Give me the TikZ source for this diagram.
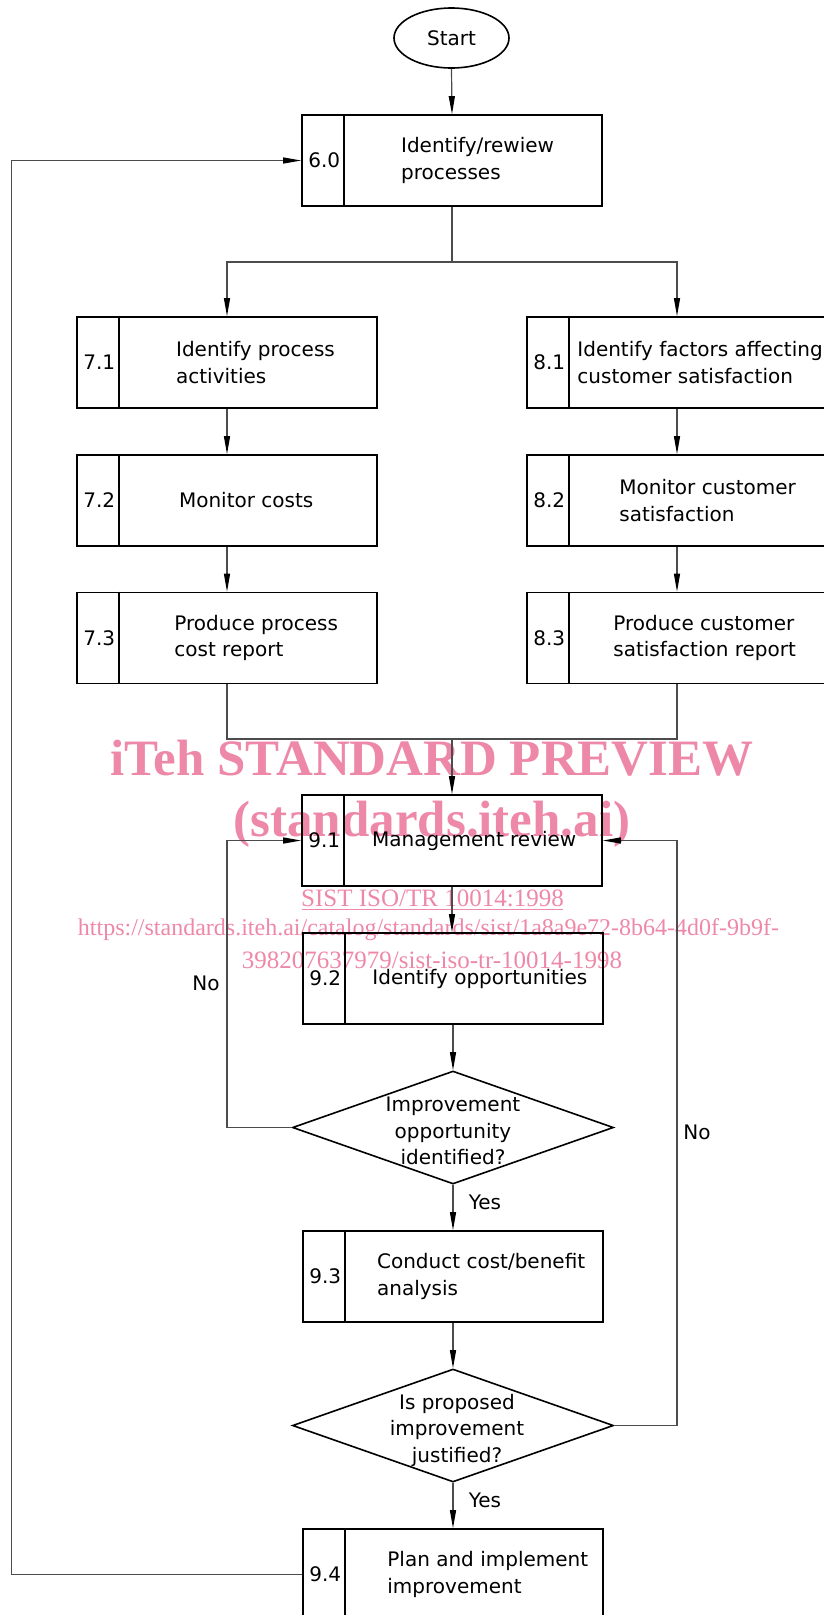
\documentclass[tikz,border=0pt]{standalone}
\usepackage{fontspec}
\setmainfont{DejaVu Sans}
\newfontfamily\wmfont{Liberation Serif}
\usetikzlibrary{shapes.geometric,arrows.meta,calc}
\definecolor{wm}{RGB}{238,136,168}
\newcommand\procbox[6]{% name, center, number, text style, text offset, text
  \node[box] (#1) at (#2) {};
  \draw[line width=1.6pt] ([xshift=43pt]#1.north west) -- ([xshift=43pt]#1.south west);
  \node[num] (#1n) at ([xshift=23pt]#1.west) {#3};
  \node[#4] (#1t) at ([xshift=#5pt]#1.west) {#6};
}
\begin{document}
\begin{tikzpicture}[x=1pt,y=-1pt,
  box/.style={draw=black,line width=1.6pt,rectangle,minimum width=300pt,minimum height=91pt,inner sep=0pt},
  dia/.style={draw=black,line width=1.6pt,diamond,minimum width=321pt,minimum height=113pt,inner sep=0pt},
  num/.style={font=\fontsize{20}{26.5}\selectfont,inner sep=0pt},
  txt/.style={font=\fontsize{20}{26.5}\selectfont,align=left,anchor=west,inner sep=0pt},
  ctxt/.style={font=\fontsize{20}{26.5}\selectfont,align=center,inner sep=0pt},
  conn/.style={line width=1.2pt,draw=black!70},
  arr/.style={conn,-{Triangle[length=18pt,width=6pt,color=black]}},
  wmt/.style={text=wm,inner sep=0pt,anchor=base}
]
\useasboundingbox (0,0) rectangle (824,1615);
\clip (0,0) rectangle (824,1615);

% watermark (beneath the diagram)
\node[wmt,font=\wmfont\bfseries\fontsize{51}{50}\selectfont] (wm1) at (432,775) {iTeh STANDARD PREVIEW};
\node[wmt,font=\wmfont\bfseries\fontsize{51}{50}\selectfont] (wm2) at (432,836) {(standards.iteh.ai)};
\node[wmt,font=\wmfont\fontsize{25}{25}\selectfont] (wm3) at (432.5,906) {SIST ISO/TR 10014:1998};
\draw[wm,line width=1.3pt] (302,909.5) -- (563,909.5);
\node[wmt,font=\wmfont\fontsize{24}{24}\selectfont] (wm4) at (428.5,935) {https://standards.iteh.ai/catalog/standards/sist/1a8a9e72-8b64-4d0f-9b9f-};
\node[wmt,font=\wmfont\fontsize{25}{25}\selectfont] (wm5) at (432,968) {398207637979/sist-iso-tr-10014-1998};

% start
\node[draw=black,ellipse,line width=1.6pt,minimum width=115pt,minimum height=60pt,inner sep=0pt,font=\fontsize{20}{26.5}\selectfont] (start) at (451.5,38) {Start};

% process boxes
\procbox{b60}{452,160.5}{6.0}{txt}{99.7}{Identify/rewiew\\processes}
\procbox{b71}{227,362.5}{7.1}{txt}{99.7}{Identify process\\activities}
\procbox{b72}{227,500.5}{7.2}{ctxt}{170}{Monitor costs}
\procbox{b73}{227,638}{7.3}{txt}{98}{Produce process\\cost report}
\procbox{b81}{677,362.5}{8.1}{txt}{51}{Identify factors affecting\\customer satisfaction}
\procbox{b82}{677,500.5}{8.2}{txt}{93}{Monitor customer\\satisfaction}
\procbox{b83}{677,638}{8.3}{txt}{87}{Produce customer\\satisfaction report}
\procbox{b91}{452,840.5}{9.1}{ctxt}{173}{Management review}
\procbox{b92}{453,978.5}{9.2}{txt}{70}{Identify opportunities}
\procbox{b93}{453,1276.5}{9.3}{txt}{74.7}{Conduct cost/benefit\\analysis}
\procbox{b94}{453,1574.5}{9.4}{txt}{85}{Plan and implement\\improvement}

% decisions
\node[dia] (d1) at (453,1127.5) {};
\node[ctxt] (d1t) at (453,1131) {Improvement\\opportunity\\identified?};
\node[dia] (d2) at (453,1425.5) {};
\node[ctxt] (d2t) at (457,1430) {Is proposed\\improvement\\justified?};

% labels
\node[ctxt] (no1) at (206,983) {No};
\node[ctxt] (no2) at (697,1132) {No};
\node[ctxt] (yes1) at (485,1202) {Yes};
\node[ctxt] (yes2) at (485,1500) {Yes};

% connectors
\draw[arr] (start.south) -- (b60.north);
\coordinate (split) at (452,262);
\draw[conn] (b60.south) -- (split);
\draw[arr] (split) -| (b71.north);
\draw[arr] (split) -| (b81.north);
\draw[arr] (b71.south) -- (b72.north);
\draw[arr] (b72.south) -- (b73.north);
\draw[arr] (b81.south) -- (b82.north);
\draw[arr] (b82.south) -- (b83.north);
\coordinate (merge) at (452,739);
\draw[conn] (b73.south) |- (merge);
\draw[conn] (b83.south) |- (merge);
\draw[arr] (merge) -- (b91.north);
\draw[arr] (b91.south) -- (b91.south |- b92.north);
\draw[arr] (b92.south) -- (d1.north);
\draw[arr] (d1.south) -- (b93.north);
\draw[arr] (b93.south) -- (d2.north);
\draw[arr] (d2.south) -- (b94.north);
\draw[arr] (d1.west) -- (d1.west -| b73.south) |- (b91.west);
\draw[arr] (d2.east) -- (d2.east -| b83.south) |- (b91.east);
\coordinate (fb) at (11.5,1574.5);
\draw[arr] (b94.west) -- (fb) |- (b60.west);
\end{tikzpicture}
\end{document}
